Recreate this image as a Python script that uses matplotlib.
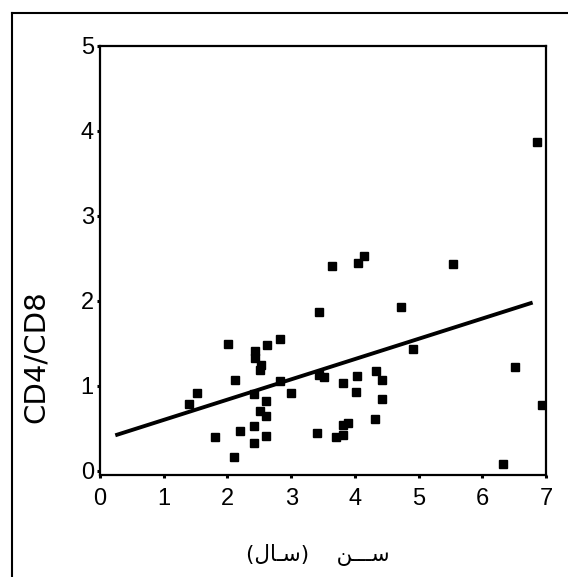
import matplotlib
matplotlib.use("Agg")
import matplotlib.pyplot as plt
from matplotlib.lines import Line2D

# سن (سال) و نسبت CD4/CD8 - مقادیر خوانده شده از تصویر
age = [1.40, 1.52, 1.81, 2.01, 2.12, 2.11, 2.20, 2.43, 2.44, 2.42,
       2.41, 2.42, 2.52, 2.51, 2.51, 2.62, 2.61, 2.61, 2.60, 2.83,
       2.82, 3.00, 3.43, 3.43, 3.52, 3.41, 3.64, 3.71, 3.81, 3.82,
       3.81, 3.90, 4.05, 4.14, 4.03, 4.02, 4.33, 4.42, 4.42, 4.31,
       4.73, 4.92, 5.54, 6.32, 6.52, 6.86, 6.93]
ratio = [0.79, 0.91, 0.40, 1.49, 1.07, 0.16, 0.47, 1.41, 1.33, 0.90,
         0.53, 0.33, 1.25, 1.19, 0.70, 1.48, 0.82, 0.65, 0.41, 1.55,
         1.06, 0.91, 1.87, 1.13, 1.10, 0.45, 2.41, 0.40, 0.42, 1.03,
         0.54, 0.56, 2.45, 2.53, 1.11, 0.93, 1.18, 1.07, 0.84, 0.61,
         1.93, 1.43, 2.43, 0.08, 1.22, 3.87, 0.77]

# خط رگرسیون
fit_intercept = 0.36
fit_slope = 0.2386
fit_x = [0.24, 6.79]
fit_y = [fit_intercept + fit_slope * v for v in fit_x]

x_ticks = [0, 1, 2, 3, 4, 5, 6, 7]
y_ticks = [0, 1, 2, 3, 4, 5]

# برچسب فارسی با شکل‌های نمایشی و ترتیب دیداری (چپ به راست)
x_label = "(\ufedd\ufe8e\u0640\ufeb3)    \ufee6\u0640\u0640\u0640\ufeb3"
y_label = "CD4/CD8"

fig = plt.figure(figsize=(5.68, 5.77), dpi=100)
ax = fig.add_axes([100 / 568, 102 / 577, 446 / 568, 429 / 577])

ax.plot(age, ratio, "s", color="black", markersize=5.8, linestyle="none")
ax.plot(fit_x, fit_y, color="black", linewidth=2.8, solid_capstyle="butt")

ax.set_xlim(0, 7)
ax.set_ylim(-0.05, 5)
ax.set_xticks(x_ticks)
ax.set_yticks(y_ticks)
ax.set_xticklabels([str(t) for t in x_ticks], fontsize=17, family="Liberation Sans")
ax.set_yticklabels([str(t) for t in y_ticks], fontsize=17, family="Liberation Sans")
ax.tick_params(axis="both", direction="out", length=2.5, width=2.2)
ax.tick_params(axis="x", pad=7)
ax.tick_params(axis="y", pad=2)

for s in ax.spines.values():
    s.set_linewidth(1.6)

ax.set_ylabel(y_label, fontsize=21, family="DejaVu Sans")
ax.yaxis.set_label_coords(-0.112, 0.275)
ax.set_xlabel(x_label, fontsize=15.5, family="DejaVu Sans")
ax.xaxis.set_label_coords(0.489, -0.16)

# قاب بیرونی
fig.add_artist(Line2D([12 / 568, 12 / 568], [0, 1 - 13 / 577], color="black", linewidth=1.5))
fig.add_artist(Line2D([12 / 568, 1], [1 - 13 / 577, 1 - 13 / 577], color="black", linewidth=1.5))

fig.savefig("out.png", dpi=100)
